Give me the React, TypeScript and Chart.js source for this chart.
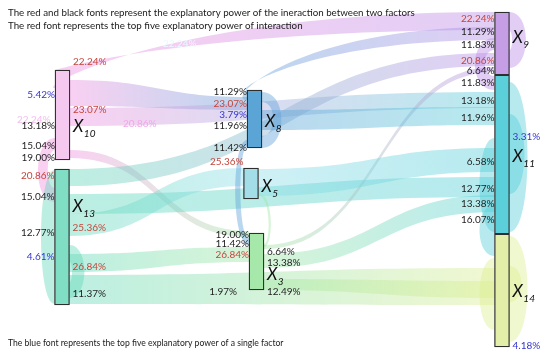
import React, { useEffect, useRef } from "react";
import { Chart, registerables } from "chart.js";
Chart.register(...registerables);

// ---------------- data ----------------
const nodeNames = ["X10", "X13", "X8", "X5", "X3", "X9", "X11", "X14"];
const nodeColumn = [62.5, 62, 254.5, 251, 256.5, 502, 502, 502];
const nodeStart = [70, 169, 90, 168, 233, 12, 75, 234];
const nodeEnd = [160, 305, 148, 199, 290, 75, 234, 347];

// [source, side, start, end, target, side, start, end]
const links: [string, string, number, number, string, string, number, number][] = [
  ["X10", "L", 70, 88, "X9", "L", 12, 30],
  ["X10", "R", 80, 106, "X8", "L", 97, 110],
  ["X10", "R", 108, 126, "X11", "L", 92, 108],
  ["X10", "L", 138, 150, "X13", "L", 188, 202],
  ["X10", "R", 150, 158, "X3", "L", 231, 237],
  ["X13", "R", 169, 186, "X9", "L", 53, 66],
  ["X13", "R", 194, 214, "X11", "L", 177, 197],
  ["X13", "R", 214, 236, "X5", "L", 168, 186],
  ["X13", "R", 254, 272, "X3", "L", 247, 262],
  ["X13", "R", 275, 304, "X14", "L", 268, 305],
  ["X3", "R", 279, 290, "X14", "L", 281, 298],
  ["X3", "R", 254, 268, "X11", "L", 195, 212],
  ["X3", "R", 245, 249, "X9", "L", 67, 72],
  ["X8", "L", 90, 100, "X9", "L", 27, 40],
  ["X8", "R", 110, 130, "X11", "L", 107, 125],
  ["X8", "L", 140, 147, "X3", "L", 238, 245],
  ["X9", "L", 38, 50, "X11", "L", 76, 90],
  ["X11", "L", 205, 228, "X14", "L", 236, 256],
  ["X5", "R", 169, 196, "X11", "L", 148, 172],
  ["X5", "R", 193, 196, "X3", "R", 244, 247],
  ["X9", "R", 12, 31, "X9", "R", 50, 68],
  ["X11", "R", 82, 112, "X11", "R", 196, 232],
  ["X11", "R", 114, 150, "X11", "R", 156, 194],
  ["X14", "R", 236, 264, "X14", "R", 304, 342],
  ["X14", "R", 266, 284, "X14", "R", 288, 302],
  ["X8", "R", 92, 102, "X8", "R", 136, 148],
  ["X13", "L", 170, 232, "X13", "L", 238, 304],
  ["X13", "R", 245, 262, "X13", "R", 282, 298],
  ["X11", "L", 138, 170, "X11", "L", 195, 232],
  ["X14", "L", 258, 276, "X14", "L", 300, 330],
];

// value labels: [node, side, y, text, kind]  kind: k=black, r=red (top interaction), b=blue (top single)
const valueLabels: [string, string, number, string, string][] = [
  ["X10", "R", 62, "22.24%", "r"],
  ["X10", "L", 95, "5.42%", "b"],
  ["X10", "R", 110, "23.07%", "r"],
  ["X10", "L", 126, "13.18%", "k"],
  ["X10", "L", 146, "15.04%", "k"],
  ["X10", "L", 158, "19.00%", "k"],
  ["X13", "L", 176, "20.86%", "r"],
  ["X13", "L", 197, "15.04%", "k"],
  ["X13", "L", 233, "12.77%", "k"],
  ["X13", "L", 257, "4.61%", "b"],
  ["X13", "R", 228, "25.36%", "r"],
  ["X13", "R", 267, "26.84%", "r"],
  ["X13", "R", 294, "11.37%", "k"],
  ["X8", "L", 92, "11.29%", "k"],
  ["X8", "L", 104, "23.07%", "r"],
  ["X8", "L", 115, "3.79%", "b"],
  ["X8", "L", 126, "11.96%", "k"],
  ["X8", "L", 148, "11.42%", "k"],
  ["X5", "L", 162, "25.36%", "r"],
  ["X3", "L", 235, "19.00%", "k"],
  ["X3", "L", 244, "11.42%", "k"],
  ["X3", "L", 255, "26.84%", "r"],
  ["X3", "R", 252, "6.64%", "k"],
  ["X3", "R", 263, "13.38%", "k"],
  ["X3", "R", 292, "12.49%", "k"],
  ["X3", "L", 292, "1.97%", "k"],
  ["X9", "L", 19, "22.24%", "r"],
  ["X9", "L", 32, "11.29%", "k"],
  ["X9", "L", 45, "11.83%", "k"],
  ["X9", "L", 61, "20.86%", "r"],
  ["X9", "L", 71, "6.64%", "k"],
  ["X11", "L", 83, "11.83%", "k"],
  ["X11", "L", 101, "13.18%", "k"],
  ["X11", "L", 118, "11.96%", "k"],
  ["X11", "R", 137, "3.31%", "b"],
  ["X11", "L", 162, "6.58%", "k"],
  ["X11", "L", 189, "12.77%", "k"],
  ["X11", "L", 204, "13.38%", "k"],
  ["X11", "L", 220, "16.07%", "k"],
  ["X14", "R", 346, "4.18%", "b"],
];

// faint duplicated labels visible in the original image: [text, x, y]
const ghostLabels: [string, number, number][] = [
  ["22.24%", 163, 44],
  ["20.86%", 123, 124],
  ["22.24%", 17, 120],
];

const nodeLabelY = [127, 207, 122, 187, 275, 38, 157, 292];

const titleLines = [
  "The red and black fonts represent the explanatory power of the ineraction between two factors",
  "The red font represents the top five explanatory power of interaction",
];
const footerText = "The blue font represents the top five explanatory power of a single factor";

// ---------------- styles ----------------
const nodeFill = ["#f5c8f0", "#7fdec4", "#5aa5d6", "#a3dde8", "#a6e8aa", "#c59ee6", "#5cd0da", "#e3eea8"];
const linkColor = ["#f08ee0", "#5fd8b8", "#5a9fd8", "#8cdde8", "#9ee6a0", "#b98ae6", "#52cdd8", "#dcee90"];
const linkBulge = [18, 22, 22, 22, 22, 22, 22, 22, 22, 22, 22, 22, 22, 24, 22, 16, 26, 20, 22, 10, 22, 24, 20, 24, 16, 26, 18, 20, 20, 20];
const ghostColor = ["#eaf8ff", "#f3a6e8", "#f6bcee"];
const FONT = 'Lato, "Open Sans", sans-serif';
const kindColor: Record<string, string> = { k: "#1e1e1e", r: "#c4463c", b: "#3535d0" };

function ribbon(ctx: CanvasRenderingContext2D, xa: number, a0: number, a1: number, da: number,
  xb: number, b0: number, b1: number, db: number, bulge: number) {
  ctx.beginPath();
  if (da === db) {
    const k = Math.abs(xb - xa) / 2;
    ctx.moveTo(xa, a0);
    ctx.bezierCurveTo(xa + da * k, a0, xb - db * k, b0, xb, b0);
    ctx.lineTo(xb, b1);
    ctx.bezierCurveTo(xb - db * k, b1, xa + da * k, a1, xa, a1);
  } else {
    const dir = da;
    const d = Math.abs(xb - xa);
    const s1 = Math.abs(a0 - b1), s2 = Math.abs(a1 - b0);
    const w = (Math.abs(a1 - a0) + Math.abs(b1 - b0)) / 2;
    const inner = Math.max(0, bulge - w);
    const e1 = s1 >= s2 ? bulge : inner;
    const e2 = s1 >= s2 ? inner : bulge;
    const edge = dir > 0 ? Math.max(xa, xb) : Math.min(xa, xb);
    const turnAtA = dir < 0 ? xa <= xb : xa >= xb;
    const cps = (e: number): [number, number] => {
      if (d < 20) return [edge + dir * e, edge + dir * e];
      const K = 0.7 * d + e;
      return turnAtA ? [xa + dir * e, xb + dir * K] : [xa + dir * K, xb + dir * e];
    };
    const [ca1, cb1] = cps(e1);
    const [ca2, cb2] = cps(e2);
    ctx.moveTo(xa, a0);
    ctx.bezierCurveTo(ca1, a0, cb1, b1, xb, b1);
    ctx.lineTo(xb, b0);
    ctx.bezierCurveTo(cb2, b0, ca2, a1, xa, a1);
  }
  ctx.closePath();
}

function nodeEdges(chart: any) {
  const meta = chart.getDatasetMeta(0);
  const res: Record<string, { l: number; r: number; i: number }> = {};
  meta.data.forEach((bar: any, i: number) => {
    const p = bar.getProps(["x", "width"], true);
    res[nodeNames[i]] = { l: p.x - p.width / 2, r: p.x + p.width / 2, i };
  });
  return res;
}

const sankeyPlugin = {
  id: "sankeyLinks",
  beforeDatasetsDraw(chart: any) {
    const { ctx } = chart;
    const ys = chart.scales.y;
    const xs = chart.scales.x;
    const E = nodeEdges(chart);
    ctx.save();
    links.forEach((lk, idx) => {
      const [s, ss, s0, s1, t, ts, t0, t1] = lk;
      const A = E[s], B = E[t];
      const xa = ss === "R" ? A.r : A.l;
      const da = ss === "R" ? 1 : -1;
      const xb = ts === "L" ? B.l : B.r;
      const db = ts === "L" ? 1 : -1;
      ribbon(ctx, xa, ys.getPixelForValue(s0), ys.getPixelForValue(s1), da,
        xb, ys.getPixelForValue(t0), ys.getPixelForValue(t1), db, linkBulge[idx] ?? 22);
      const ca = linkColor[A.i], cb = linkColor[B.i];
      if (Math.abs(xb - xa) > 5) {
        const g = ctx.createLinearGradient(xa, 0, xb, 0);
        g.addColorStop(0, ca);
        g.addColorStop(1, cb);
        ctx.fillStyle = g;
      } else ctx.fillStyle = ca;
      ctx.globalAlpha = 0.42;
      ctx.fill();
    });
    ctx.globalAlpha = 1;
    ctx.font = `10px ${FONT}`;
    ctx.textBaseline = "middle";
    ctx.textAlign = "left";
    ghostLabels.forEach(([t, x, y], i) => {
      ctx.fillStyle = ghostColor[i];
      ctx.fillText(t, xs.getPixelForValue(x), ys.getPixelForValue(y));
    });
    ctx.restore();
  },
  afterDatasetsDraw(chart: any) {
    const { ctx } = chart;
    const ys = chart.scales.y;
    const E = nodeEdges(chart);
    ctx.save();
    ctx.textBaseline = "middle";
    ctx.font = `10px ${FONT}`;
    valueLabels.forEach(([n, side, y, text, kind]) => {
      const e = E[n];
      const py = ys.getPixelForValue(y);
      ctx.fillStyle = kindColor[kind];
      if (side === "L") {
        ctx.textAlign = "right";
        const gap = text === "1.97%" ? 12 : 0;
        ctx.fillText(text, e.l - gap, py);
      } else {
        ctx.textAlign = "left";
        ctx.fillText(text, e.r + 3, py);
      }
    });
    // node names X with subscript
    ctx.textAlign = "left";
    nodeNames.forEach((n, i) => {
      const e = E[n];
      const py = ys.getPixelForValue(nodeLabelY[i]);
      ctx.fillStyle = "#111";
      ctx.font = `italic 17px ${FONT}`;
      const x0 = e.r + 3;
      ctx.fillText("X", x0, py);
      const w = ctx.measureText("X").width;
      ctx.font = `italic 10px ${FONT}`;
      ctx.fillText(n.slice(1), x0 + w + 0.5, py + 7);
    });
    // header / footer notes
    ctx.fillStyle = "#1a1a1a";
    ctx.font = `9.75px ${FONT}`;
    ctx.fillText(titleLines[0], 8, 13);
    ctx.fillText(titleLines[1], 8, 26);
    ctx.font = `8.6px ${FONT}`;
    ctx.fillText(footerText, 8, 343);
    ctx.restore();
  },
};

export default function App() {
  const ref = useRef<HTMLCanvasElement | null>(null);
  useEffect(() => {
    document.body.style.margin = "0";
    const canvas = ref.current!;
    const chart = new Chart(canvas, {
      type: "bar",
      data: {
        datasets: [
          {
            data: nodeNames.map((_, i) => ({ x: nodeColumn[i], y: [nodeStart[i], nodeEnd[i]] })) as any,
            backgroundColor: nodeFill,
            borderColor: "#2e2e2e",
            borderWidth: 1.3,
            borderSkipped: false,
            barThickness: 15,
          } as any,
        ],
      },
      options: {
        animation: false,
        responsive: false,
        devicePixelRatio: 1,
        events: [],
        layout: { padding: 0 },
        plugins: { legend: { display: false }, tooltip: { enabled: false } },
        scales: {
          x: { type: "linear", min: 0, max: 550, display: false, offset: false },
          y: { type: "linear", min: 0, max: 357, reverse: true, display: false },
        },
      },
      plugins: [sankeyPlugin],
    });
    return () => chart.destroy();
  }, []);
  return (
    <div style={{ width: 550, height: 357, background: "#fff" }}>
      <canvas ref={ref} width={550} height={357} />
    </div>
  );
}
